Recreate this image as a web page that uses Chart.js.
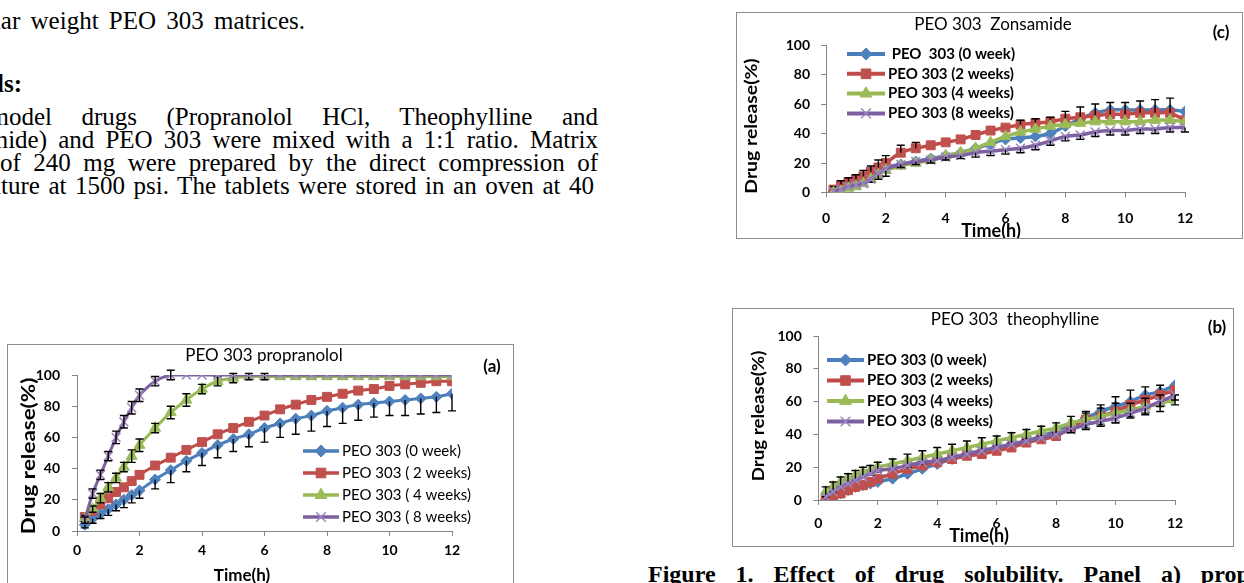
<!DOCTYPE html>
<html><head><meta charset="utf-8">
<script src="https://cdn.jsdelivr.net/npm/chart.js@4.4.1/dist/chart.umd.min.js"></script>
<style>
html,body{margin:0;padding:0;width:1244px;height:583px;overflow:hidden;background:#fff;position:relative;}
.txt{position:absolute;font-family:"Liberation Serif","Times New Roman",serif;font-size:25px;color:#000;white-space:nowrap;line-height:1;}
.b{font-weight:bold;}
.frame{position:absolute;border:1px solid #8c8c8c;overflow:hidden;background:#fff;box-sizing:border-box;}
.frame canvas{position:absolute;left:0;top:0;}
</style></head><body>
<div class="txt" style="right:939px;top:8px;word-spacing:4px">molecular weight PEO 303 matrices.</div>
<div class="txt b" style="right:1222px;top:71px">Materials:</div>
<div class="txt" style="right:646px;top:104px;word-spacing:23.2px">model drugs (Propranolol HCl, Theophylline and</div>
<div class="txt" style="right:646px;top:127px;word-spacing:4.9px">Zonisamide) and PEO 303 were mixed with a 1:1 ratio. Matrix</div>
<div class="txt" style="right:646px;top:150px;word-spacing:6.2px">tablets of 240 mg were prepared by the direct compression of</div>
<div class="txt" style="right:650px;top:173px;word-spacing:2.3px">mixture at 1500 psi. The tablets were stored in an oven at 40</div>
<div class="txt b" style="left:648px;top:562px;font-size:24px;word-spacing:14px">Figure 1. Effect of drug solubility. Panel a) propranolol</div>

<div class="frame" style="left:7px;top:344px;width:507px;height:300px"><canvas id="ca" width="504" height="242"></canvas></div>
<div class="frame" style="left:736px;top:12px;width:507px;height:227px"><canvas id="cc" width="504" height="240"></canvas></div>
<div class="frame" style="left:732px;top:308px;width:502px;height:239px"><canvas id="cb" width="499" height="236"></canvas></div>

<script>
// ---- data ----
const timeH = [0.25,0.5,0.75,1,1.25,1.5,1.75,2,2.5,3,3.5,4,4.5,5,5.5,6,6.5,7,7.5,8,8.5,9,9.5,10,10.5,11,11.5,12];
const xTickValues = [0,2,4,6,8,10,12];
const yTickValues = [0,20,40,60,80,100];

const labelsA = ['PEO 303 (0 week)','PEO 303 ( 2 weeks)','PEO 303 ( 4 weeks)','PEO 303 ( 8 weeks)'];
const labelsB = ['PEO 303 (0 week)','PEO 303 (2 weeks)','PEO 303 (4 weeks)','PEO 303 (8 weeks)'];
const labelsC = [' PEO  303 (0 week)','PEO 303 (2 weeks)','PEO 303 (4 weeks)','PEO 303 (8 weeks)'];

// Panel (a) propranolol
const propW0 = [4,8,11,14,17,20,23,26,33,39,45,50,55,59,62,66,69,72,74,77,79,81,82,83,84,85,86,88];
const propW2 = [9,13,17,21,25,28,32,36,42,47,52,57,62,66,70,74,78,81,84,86,88,90,91,93,94,95,96,96];
const propW4 = [8,14,21,28,34,41,48,55,66,76,84,91,96,98,99,99,99,99,99,99,99,99,99,99,99,99,99,99];
const propW8 = [7,24,36,48,60,70,79,87,96,100,100,100,100,100,100,100,100,100,100,100,100,100,100,100,100,100,100,100];
const propW0Err = [2,3,3,4,4,5,5,5,6,8,7,8,8,8,8,9,9,10,10,10,10,10,9,9,10,10,10,11];
const propW2Err = [0,0,0,0,0,0,0,0,0,0,0,0,0,0,0,0,0,0,0,0,0,0,0,0,0,0,0,0];
const propW4Err = [2,2,3,3,3,3,4,4,3,4,4,3,3,3,2,2,0,0,0,0,0,0,0,0,0,0,0,0];
const propW8Err = [2,3,3,3,4,4,4,4,3,3,0,0,0,0,0,0,0,0,0,0,0,0,0,0,0,0,0,0];

// Panel (b) theophylline
const theoW0 = [0,2,4,6,8,9,10,11,13,16,19,22,25,28,30,32,34,36,39,42,46,50,54,57,60,64,66,70];
const theoW2 = [0,2,4,6,8,9,11,13,16,19,21,23,25,27,28,30,32,35,37,39,44,49,51,54,58,61,64,67];
const theoW4 = [5,8,11,13,15,17,18,20,22,24,26,28,30,32,34,36,38,40,42,44,47,49,51,53,55,57,59,61];
const theoW8 = [2,5,8,10,12,14,16,18,19,21,23,24,26,28,30,32,34,36,38,40,43,46,48,50,53,56,60,64];
const theoW0Err = [0,0,0,0,0,0,0,0,0,0,0,0,0,0,0,0,0,0,0,0,0,3,4,6,7,5,4,0];
const theoW2Err = [0,0,0,0,0,0,0,0,0,0,0,0,0,0,0,0,0,0,0,0,0,0,0,0,0,0,0,0];
const theoW4Err = [3,3,3,3,3,3,3,3,3,4,4,4,4,4,4,3,3,3,3,3,4,5,5,6,4,5,5,3];
const theoW8Err = [0,0,0,0,0,0,0,0,0,0,0,0,0,0,0,0,0,0,0,0,2,3,3,3,3,3,3,3];

// Panel (c) zonisamide
const zonW0 = [1,3,5,6,8,11,14,17,19,21,23,25,27,30,33,36,37,38,40,45,50,54,56,56,56,56,56,55];
const zonW2 = [2,5,7,9,11,14,17,20,27,30,32,34,36,39,42,44,46,47,48,50,51,52,53,53,54,54,54,49];
const zonW4 = [0,1,3,4,6,9,12,15,18,20,22,25,27,30,34,38,41,43,45,46,47,48,48,48,48,49,49,48];
const zonW8 = [1,2,4,5,6,9,13,16,19,21,22,24,25,27,28,29,30,32,35,38,39,41,42,42,43,43,44,44];
const zonW0Err = [0,0,0,0,0,0,0,0,0,0,0,0,0,0,0,0,0,0,0,0,0,0,0,0,0,0,0,0];
const zonW2Err = [2,3,3,3,4,4,5,5,5,4,0,0,0,0,0,0,3,3,3,5,7,8,8,8,8,9,10,0];
const zonW4Err = [0,0,0,0,0,2,3,4,0,0,0,0,0,0,0,0,0,0,0,0,0,0,0,0,0,0,0,0];
const zonW8Err = [0,0,0,0,0,0,0,0,2,2,2,2,2,3,3,3,3,3,3,3,3,3,3,3,3,3,3,3];

// ---- styling ----
const COLORS = [
  {line:'#4a7ebb', fill:'#4f81bd', style:'rectRot', r:5.5, bw:1},
  {line:'#be4b48', fill:'#c0504d', style:'rect', r:6.3, bw:1},
  {line:'#98b954', fill:'#9bbb59', style:'triangle', r:6.3, bw:1},
  {line:'#7d60a0', fill:'#9a86c0', style:'crossRot', r:6.3, bw:1.5}
];
const AXIS = '#868686';

function drawMarker(ctx, style, x, y, r, fill, stroke, bw) {
  ctx.beginPath();
  if (style === 'rectRot') { ctx.moveTo(x, y - r); ctx.lineTo(x + r, y); ctx.lineTo(x, y + r); ctx.lineTo(x - r, y); ctx.closePath(); }
  else if (style === 'rect') { const s = r * Math.SQRT1_2; ctx.rect(x - s, y - s, 2 * s, 2 * s); }
  else if (style === 'triangle') { ctx.moveTo(x, y - r); ctx.lineTo(x + 0.866 * r, y + 0.5 * r); ctx.lineTo(x - 0.866 * r, y + 0.5 * r); ctx.closePath(); }
  else { const s = r * Math.SQRT1_2; ctx.moveTo(x - s, y - s); ctx.lineTo(x + s, y + s); ctx.moveTo(x + s, y - s); ctx.lineTo(x - s, y + s); }
  ctx.fillStyle = fill; ctx.strokeStyle = stroke; ctx.lineWidth = bw;
  if (style !== 'crossRot') ctx.fill();
  ctx.stroke();
}

const errorBars = {
  id: 'errorBars',
  afterDatasetDraw(chart, args) {
    const ds = chart.data.datasets[args.index];
    if (!ds.errors) return;
    const ys = chart.scales.y, ctx = chart.ctx;
    ctx.save();
    ctx.strokeStyle = '#000'; ctx.lineWidth = 1.4;
    args.meta.data.forEach((pt, i) => {
      const e = ds.errors[i]; if (!e) return;
      const v = ds.data[i].y, x = pt.x;
      const top = ds.errorDir === 'down' ? pt.y : ys.getPixelForValue(v + e);
      const bot = ds.errorDir === 'up' ? pt.y : ys.getPixelForValue(v - e);
      ctx.beginPath();
      ctx.moveTo(x, top); ctx.lineTo(x, bot);
      if (ds.errorDir !== 'down') { ctx.moveTo(x - 4, top); ctx.lineTo(x + 4, top); }
      if (ds.errorDir !== 'up') { ctx.moveTo(x - 4, bot); ctx.lineTo(x + 4, bot); }
      ctx.stroke();
    });
    ctx.restore();
  }
};

const boxLegend = {
  id: 'boxLegend',
  afterDraw(chart, args, o) {
    if (!o || !o.display) return;
    const ctx = chart.ctx;
    chart.data.datasets.forEach((ds, i) => {
      const y = o.y + i * o.rowH;
      ctx.save();
      ctx.strokeStyle = ds.borderColor; ctx.lineWidth = o.lineWidth;
      ctx.beginPath(); ctx.moveTo(o.x, y); ctx.lineTo(o.x + o.lineLen, y); ctx.stroke();
      drawMarker(ctx, ds.pointStyle, o.x + o.lineLen / 2, y, ds.pointRadius + 0.5, ds.pointBackgroundColor, ds.pointBorderColor, ds.pointBorderWidth);
      ctx.fillStyle = '#000'; ctx.font = o.font; ctx.textAlign = 'left'; ctx.textBaseline = 'middle';
      ctx.fillText(ds.label, o.x + o.lineLen + o.gap, y);
      ctx.restore();
    });
  }
};

const freeText = {
  id: 'freeText',
  afterDraw(chart, args, o) {
    const ctx = chart.ctx;
    (o.items || []).forEach(it => {
      ctx.save();
      ctx.font = it.font; ctx.fillStyle = '#000';
      ctx.textAlign = 'center'; ctx.textBaseline = 'middle';
      ctx.translate(it.x, it.y);
      if (it.rotate) ctx.rotate(it.rotate);
      if (it.sx) ctx.scale(it.sx, 1);
      ctx.fillText(it.text, 0, 0);
      ctx.restore();
    });
  }
};

function makeDatasets(labels, series, errs, dirs, lw) {
  return series.map((vals, k) => ({
    label: labels[k],
    data: vals.map((v, i) => ({x: timeH[i], y: v})),
    borderColor: COLORS[k].line,
    borderWidth: lw,
    backgroundColor: COLORS[k].fill,
    pointStyle: COLORS[k].style,
    pointRadius: COLORS[k].r,
    pointBackgroundColor: COLORS[k].fill,
    pointBorderColor: COLORS[k].fill,
    pointBorderWidth: COLORS[k].bw,
    tension: 0.3,
    fill: false,
    order: 4 - k,
    errors: errs[k],
    errorDir: dirs[k]
  }));
}

function makeChart(id, p) {
  const tickFont = {family: 'Lato', size: 14, weight: 'bold'};
  new Chart(document.getElementById(id), {
    type: 'line',
    data: {datasets: p.datasets},
    options: {
      responsive: false, animation: false, events: [],
      layout: {padding: {left: 0, right: p.padR, top: p.padT, bottom: 0}},
      plugins: {
        legend: {display: false}, title: {display: false}, tooltip: {enabled: false},
        boxLegend: p.legend,
        freeText: {items: p.texts}
      },
      scales: {
        x: {
          type: 'linear', min: 0, max: 12,
          afterBuildTicks: s => { s.ticks = xTickValues.map(v => ({value: v})); },
          ticks: {color: '#000', font: tickFont, padding: p.xPad, maxRotation: 0, autoSkip: false},
          grid: {display: true, drawOnChartArea: false, drawTicks: true, tickLength: 5, color: AXIS},
          border: {display: true, color: AXIS, width: 1},
          afterFit: s => { s.height = p.xH; }
        },
        y: {
          type: 'linear', min: 0, max: 100,
          afterBuildTicks: s => { s.ticks = yTickValues.map(v => ({value: v})); },
          ticks: {color: '#000', font: tickFont, padding: p.yPad},
          grid: {display: true, drawOnChartArea: false, drawTicks: true, tickLength: 5, color: AXIS},
          border: {display: true, color: AXIS, width: 1},
          afterFit: s => { s.width = p.yW; }
        }
      }
    },
    plugins: [errorBars, boxLegend, freeText]
  });
}

// Panel (a)
makeChart('ca', {
  datasets: makeDatasets(labelsA, [propW0, propW2, propW4, propW8], [propW0Err, propW2Err, propW4Err, propW8Err], ['down','both','both','both'], 3),
  padR: 60, padT: 30, xH: 56, yW: 69, xPad: 6, yPad: 12,
  legend: {display: true, x: 295, y: 106, rowH: 22, lineLen: 36, gap: 3, lineWidth: 3.5, font: '15px Lato'},
  texts: [
    {text: 'PEO 303 propranolol', x: 256, y: 11, font: '17px Lato'},
    {text: '(a)', x: 484, y: 22, font: 'bold 17px Lato'},
    {text: 'Drug release(%)', x: 21, y: 111, font: 'bold 19px Lato', rotate: -Math.PI / 2, sx: 1.18},
    {text: 'Time(h)', x: 234, y: 231, font: 'bold 17px Lato'}
  ]
});

// Panel (c)
makeChart('cc', {
  datasets: makeDatasets(labelsC, [zonW0, zonW2, zonW4, zonW8], [zonW0Err, zonW2Err, zonW4Err, zonW8Err], ['up','up','down','down'], 3.5),
  padR: 56, padT: 32, xH: 60.5, yW: 89, xPad: 13, yPad: 11,
  legend: {display: true, x: 110, y: 41, rowH: 19.8, lineLen: 38, gap: 3, lineWidth: 4, font: 'bold 15px Lato'},
  texts: [
    {text: 'PEO 303  Zonsamide', x: 256, y: 12, font: '17px Lato'},
    {text: '(c)', x: 484, y: 20, font: 'bold 17px Lato'},
    {text: 'Drug release(%)', x: 14.5, y: 113, font: 'bold 17px Lato', rotate: -Math.PI / 2, sx: 1.14},
    {text: 'Time(h)', x: 254, y: 218, font: 'bold 18px Lato'}
  ]
});

// Panel (b)
makeChart('cb', {
  datasets: makeDatasets(labelsB, [theoW0, theoW2, theoW4, theoW8], [theoW0Err, theoW2Err, theoW4Err, theoW8Err], ['up','up','both','down'], 3.5),
  padR: 57, padT: 27, xH: 45, yW: 85.3, xPad: 10, yPad: 11.5,
  legend: {display: true, x: 94, y: 51, rowH: 20.5, lineLen: 37, gap: 3, lineWidth: 4, font: 'bold 15px Lato'},
  texts: [
    {text: 'PEO 303  theophylline', x: 282, y: 11, font: '17px Lato'},
    {text: '(b)', x: 484, y: 19, font: 'bold 17px Lato'},
    {text: 'Drug release(%)', x: 26, y: 107, font: 'bold 17px Lato', rotate: -Math.PI / 2, sx: 1.1},
    {text: 'Time(h)', x: 246, y: 227, font: 'bold 18px Lato'}
  ]
});
</script>
</body></html>
